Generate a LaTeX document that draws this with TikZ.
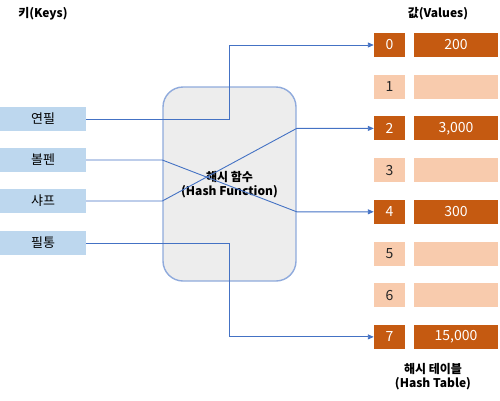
\documentclass[tikz,border=0pt]{standalone}
\usepackage{fontspec}
\setmainfont{Noto Sans CJK KR}
\usetikzlibrary{positioning,arrows.meta}
\definecolor{keyblue}{HTML}{BDD7EE}
\definecolor{usedcell}{HTML}{C55A11}
\definecolor{freecell}{HTML}{F8CBAD}
\definecolor{linkblue}{HTML}{4472C4}
\definecolor{hashfill}{HTML}{EDEDED}
\definecolor{hashedge}{HTML}{8FAADC}
\definecolor{freetext}{HTML}{262626}

\begin{document}
\begin{tikzpicture}[x=1pt,y=-1pt,
  title/.style={font=\fontsize{12}{14}\selectfont\bfseries, align=center},
  keybox/.style={fill=keyblue, minimum width=86pt, minimum height=24pt, inner sep=0pt, font=\fontsize{13}{15}\selectfont},
  idxbox/.style={fill=#1, minimum width=31pt, minimum height=24pt, inner sep=0pt, font=\fontsize{14}{16}\selectfont},
  valbox/.style={fill=#1, minimum width=84pt, minimum height=24pt, inner sep=0pt, font=\fontsize{14}{16}\selectfont},
  link/.style={draw=linkblue, line width=0.9pt},
  tip/.style={-{Triangle[length=6pt,width=5pt]}}]
\useasboundingbox (0,0) rectangle (500,400);

% keys
  \node[title] (keystitle) at (43,14) {키(Keys)};
  \node[keybox] (k0) at (43,119) {연필};
  \node[keybox] (k1) at (43,160) {볼펜};
  \node[keybox] (k2) at (43,201) {샤프};
  \node[keybox] (k3) at (43,243) {필통};

% hash function
  \node[draw=hashedge, line width=1.4pt, fill=hashfill, rounded corners=20pt,
        minimum width=133pt, minimum height=194pt] (hash) at (229.5,184) {};
  \node[title] (hashtext) at (229.5,185) {해시 함수\\(Hash Function)};

% table
  \node[title] (valtitle) at (438,14) {값(Values)};
  \foreach \i/\v in {0/200,2/{3,000},4/300,7/{15,000}}{
    \node[idxbox=usedcell, text=white] (i\i) at (389.5,45+41.7*\i) {\i};
    \node[valbox=usedcell, text=white] (v\i) at (456,45+41.7*\i) {\v};
  }
  \foreach \i in {1,3,5,6}{
    \node[idxbox=freecell, text=freetext] (i\i) at (389.5,45+41.7*\i) {\i};
    \node[valbox=freecell] (v\i) at (456,45+41.7*\i) {};
  }
  \node[title] (tabletitle) at (433,377) {해시 테이블\\(Hash Table)};

% links
  \draw[link, tip] (k0.east) -- (hash.center |- k0.east) |- (i0.west);
  \draw[link, tip] (k1.east) -- (hash.west |- k1.east) -- (hash.east |- i4.west) -- (i4.west);
  \draw[link, tip] (k2.east) -- (hash.west |- k2.east) -- (hash.east |- i2.west) -- (i2.west);
  \draw[link, tip] (k3.east) -- (hash.center |- k3.east) |- (i7.west);

\end{tikzpicture}
\end{document}
